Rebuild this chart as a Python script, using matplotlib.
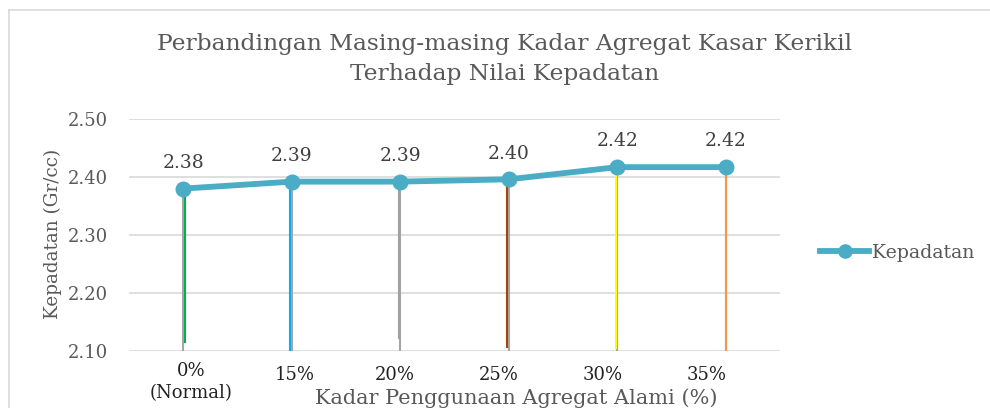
import matplotlib
matplotlib.use("Agg")
import matplotlib.pyplot as plt
import matplotlib.transforms as mtransforms
from matplotlib.lines import Line2D

categories = ["0%\n(Normal)", "15%", "20%", "25%", "30%", "35%"]
kepadatan = [2.380, 2.392, 2.392, 2.396, 2.417, 2.417]
y_ticks = [2.10, 2.20, 2.30, 2.40, 2.50]
# manually drawn coloured marker lines in the original (colour, x-offset, bottom value)
marker_colors = ["#00b050", "#00b0f0", "#a0a0a0", "#9c4a0c", "#ffff00", "#f79646"]
marker_offsets = [0.012, -0.02, -0.01, -0.02, -0.012, 0.0]
marker_bottoms = [2.115, 2.10, 2.122, 2.107, 2.105, 2.10]
# horizontal pixel shift of each category label (labels are not centred on their points)
label_shifts = [8, 3, -5, -10, -15, -19]

plt.rcParams['font.family'] = ['DejaVu Serif']
fig = plt.figure(figsize=(9.9, 4.08), dpi=100)
# chart-area border (left and top edges only are visible)
fig.lines.append(Line2D([8.5/990, 8.5/990], [0, 1-9.5/408], transform=fig.transFigure,
                        color="#d9d9d9", linewidth=1.2))
fig.lines.append(Line2D([8.5/990, 1], [1-9.5/408, 1-9.5/408], transform=fig.transFigure,
                        color="#d9d9d9", linewidth=1.2))

ax = fig.add_axes([129/990, 1-351/408, (780-129)/990, (351-119)/408])

x = list(range(len(categories)))
ax.set_xlim(-0.5, len(categories) - 0.5)
ax.set_ylim(2.10, 2.50)
ax.set_yticks(y_ticks)
ax.set_yticklabels([f"{v:.2f}" for v in y_ticks], color="#595959", fontsize=13)
ax.grid(axis='y', color="#d9d9d9", linewidth=1.2)
ax.set_axisbelow(True)
for s in ax.spines.values():
    s.set_visible(False)
ax.tick_params(axis='both', length=0)
ax.tick_params(axis='y', pad=15)
ax.set_xticks(x)
ax.set_xticklabels(categories, fontsize=13, color="#222222", linespacing=1.3)
ax.tick_params(axis='x', pad=8)
for lbl, dx in zip(ax.get_xticklabels(), label_shifts):
    dy = 0 if "\n" in lbl.get_text() else -4
    lbl.set_transform(lbl.get_transform() +
                      mtransforms.ScaledTranslation(dx/100, dy/100, fig.dpi_scale_trans))

# drop lines
for xi, v in zip(x, kepadatan):
    ax.plot([xi, xi], [2.10, v], color="#a6a6a6", linewidth=1.5, zorder=2)
for xi, v, c, o, b in zip(x, kepadatan, marker_colors, marker_offsets, marker_bottoms):
    ax.plot([xi + o, xi + o], [b, v], color=c, linewidth=1.5, zorder=2.5)

ax.plot(x, kepadatan, color="#4bacc6", linewidth=4.2, marker='o', markersize=10.5,
        zorder=3, solid_capstyle='round', label="Kepadatan")

for xi, v in zip(x, kepadatan):
    ax.annotate(f"{v:.2f}", (xi, v), xytext=(0, 12), textcoords='offset points',
                ha='center', va='bottom', fontsize=13.5, color="#404040")

ax.set_ylabel("Kepadatan (Gr/cc)", fontsize=13.2, color="#595959")
ax.yaxis.label.set_va('center')
ax.yaxis.set_label_coords((53-129)/651, (351-234)/232)
ax.set_xlabel("Kadar Penggunaan Agregat Alami (%)", fontsize=15, color="#595959")
ax.xaxis.set_label_coords((516-129)/651, -(388-351)/232)
ax.xaxis.label.set_va('top')

fig.text(505/990, 1-33/408, "Perbandingan Masing-masing Kadar Agregat Kasar Kerikil\nTerhadap Nilai Kepadatan",
         ha='center', va='top', fontsize=16.8, color="#595959", linespacing=1.48)

handle = Line2D([], [], color="#4bacc6", linewidth=4.2, marker='o', markersize=9.5)
fig.legend([handle], ["Kepadatan"], loc='center left', bbox_to_anchor=(803/990, 1-253/408),
           frameon=False, fontsize=13.6, handlelength=2.6, handletextpad=0.15,
           labelcolor="#595959")

fig.savefig("out.png", dpi=100)
